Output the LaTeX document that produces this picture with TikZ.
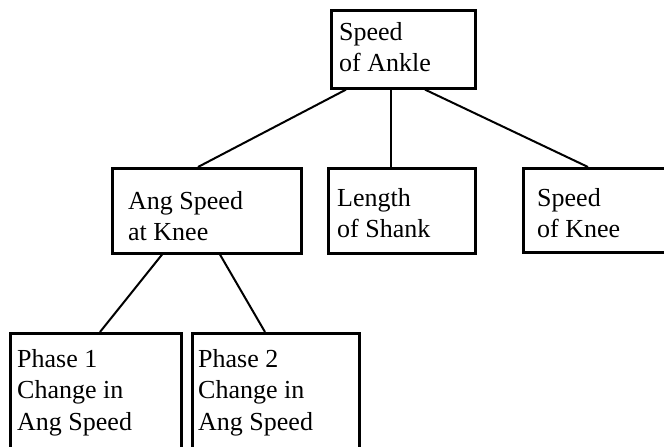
\documentclass[tikz,border=0pt]{standalone}
\usepackage{fontspec}
\setmainfont{Liberation Serif}
\usetikzlibrary{calc}
\begin{document}
\begin{tikzpicture}[x=1pt,y=-1pt,
  box/.style={draw=black,line width=2.6pt,inner sep=0pt,anchor=north west},
  lbl/.style={anchor=base west,inner sep=0pt,font=\fontsize{26}{31.5}\selectfont},
  link/.style={draw=black,line width=2pt}]
\useasboundingbox (0,0) rectangle (664,447);
\clip (0,0) rectangle (664,447);
\fill[white] (0,0) rectangle (664,447);
% boxes
\node[box,minimum width=144pt,minimum height=78pt] (ankle) at (330,9) {};
\node[box,minimum width=189pt,minimum height=85pt] (angknee) at (111,167) {};
\node[box,minimum width=147pt,minimum height=85pt] (shank) at (327,167) {};
\node[box,minimum width=160pt,minimum height=84pt] (kneespeed) at (522,167) {};
\node[box,minimum width=171pt,minimum height=130pt] (phaseA) at (9,332) {};
\node[box,minimum width=167pt,minimum height=130pt] (phaseB) at (191,332) {};
% labels
\node[lbl] (tAnkle) at ($(ankle.north west)+(9,31)$) {\parbox[t]{200pt}{\raggedright Speed\\of Ankle}};
\node[lbl] (tAng) at ($(angknee.north west)+(17,42)$) {\parbox[t]{200pt}{\raggedright Ang Speed\\at Knee}};
\node[lbl] (tShank) at ($(shank.north west)+(10,39)$) {\parbox[t]{200pt}{\raggedright Length\\of Shank}};
\node[lbl] (tKnee) at ($(kneespeed.north west)+(15,39)$) {\parbox[t]{200pt}{\raggedright Speed\\of Knee}};
\node[lbl] (tPA) at ($(phaseA.north west)+(8,35)$) {\parbox[t]{200pt}{\raggedright Phase 1\\Change in\\Ang Speed}};
\node[lbl] (tPB) at ($(phaseB.north west)+(7,35)$) {\parbox[t]{200pt}{\raggedright Phase 2\\Change in\\Ang Speed}};
% connectors
\draw[link] ($(ankle.south west)+(16,0)$) -- ($(angknee.north west)+(87,0)$);
\draw[link] ($(ankle.south west)+(61,0)$) -- ($(shank.north west)+(64,0)$);
\draw[link] ($(ankle.south west)+(95,0)$) -- ($(kneespeed.north west)+(66,0)$);
\draw[link] ($(angknee.south west)+(51,0)$) -- ($(phaseA.north west)+(91,0)$);
\draw[link] ($(angknee.south west)+(109,0)$) -- ($(phaseB.north west)+(74,0)$);
\end{tikzpicture}
\end{document}
